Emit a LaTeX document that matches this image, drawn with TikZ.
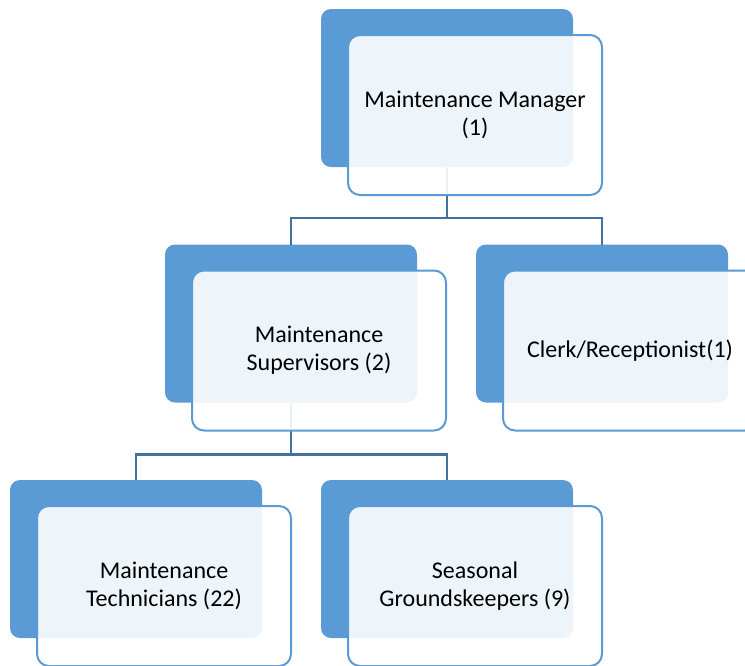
\documentclass[tikz,border=0pt]{standalone}
\usepackage{fontspec}
\setmainfont{Carlito}
\definecolor{accentblue}{HTML}{5B9BD5}
\definecolor{linkblue}{HTML}{41719C}
\begin{document}
\begin{tikzpicture}[x=1pt,y=-1pt,inner sep=0pt,outer sep=0pt,
backbox/.style={fill=accentblue,rectangle,rounded corners=10pt,minimum width=252pt,minimum height=158pt},
frontbox/.style={draw=accentblue,line width=2pt,fill=white,fill opacity=0.9,text opacity=1,rectangle,rounded corners=12pt,
  minimum width=254pt,minimum height=160pt,align=center,font=\fontsize{24}{28}\selectfont},
link/.style={draw=linkblue,line width=2.5pt}]
\useasboundingbox (0,0) rectangle (745,665);
% back boxes
\node[backbox] (mgrB) at (447,88) {};
\node[backbox] (supB) at (291,323.5) {};
\node[backbox] (clkB) at (602,323.5) {};
\node[backbox] (techB) at (136,559) {};
\node[backbox] (grdB) at (447,559) {};
% connectors
\draw[link] (mgrB.south) -- ++(0,51) -| (supB.north);
\draw[link] (mgrB.south) ++(0,51) -| (clkB.north);
\draw[link] (supB.south) -- ++(0,52) -| (techB.north);
\draw[link] (supB.south) ++(0,52) -| (grdB.north);
% front boxes
\node[frontbox] (mgr) at ([shift={(28,27)}]mgrB.center) {Maintenance Manager\\(1)};
\node[frontbox] (sup) at ([shift={(28,27)}]supB.center) {Maintenance\\Supervisors (2)};
\node[frontbox] (clk) at ([shift={(28,27)}]clkB.center) {Clerk/Receptionist(1)};
\node[frontbox] (tech) at ([shift={(28,27)}]techB.center) {Maintenance\\Technicians (22)};
\node[frontbox] (grd) at ([shift={(28,27)}]grdB.center) {Seasonal\\Groundskeepers (9)};
\end{tikzpicture}
\end{document}
